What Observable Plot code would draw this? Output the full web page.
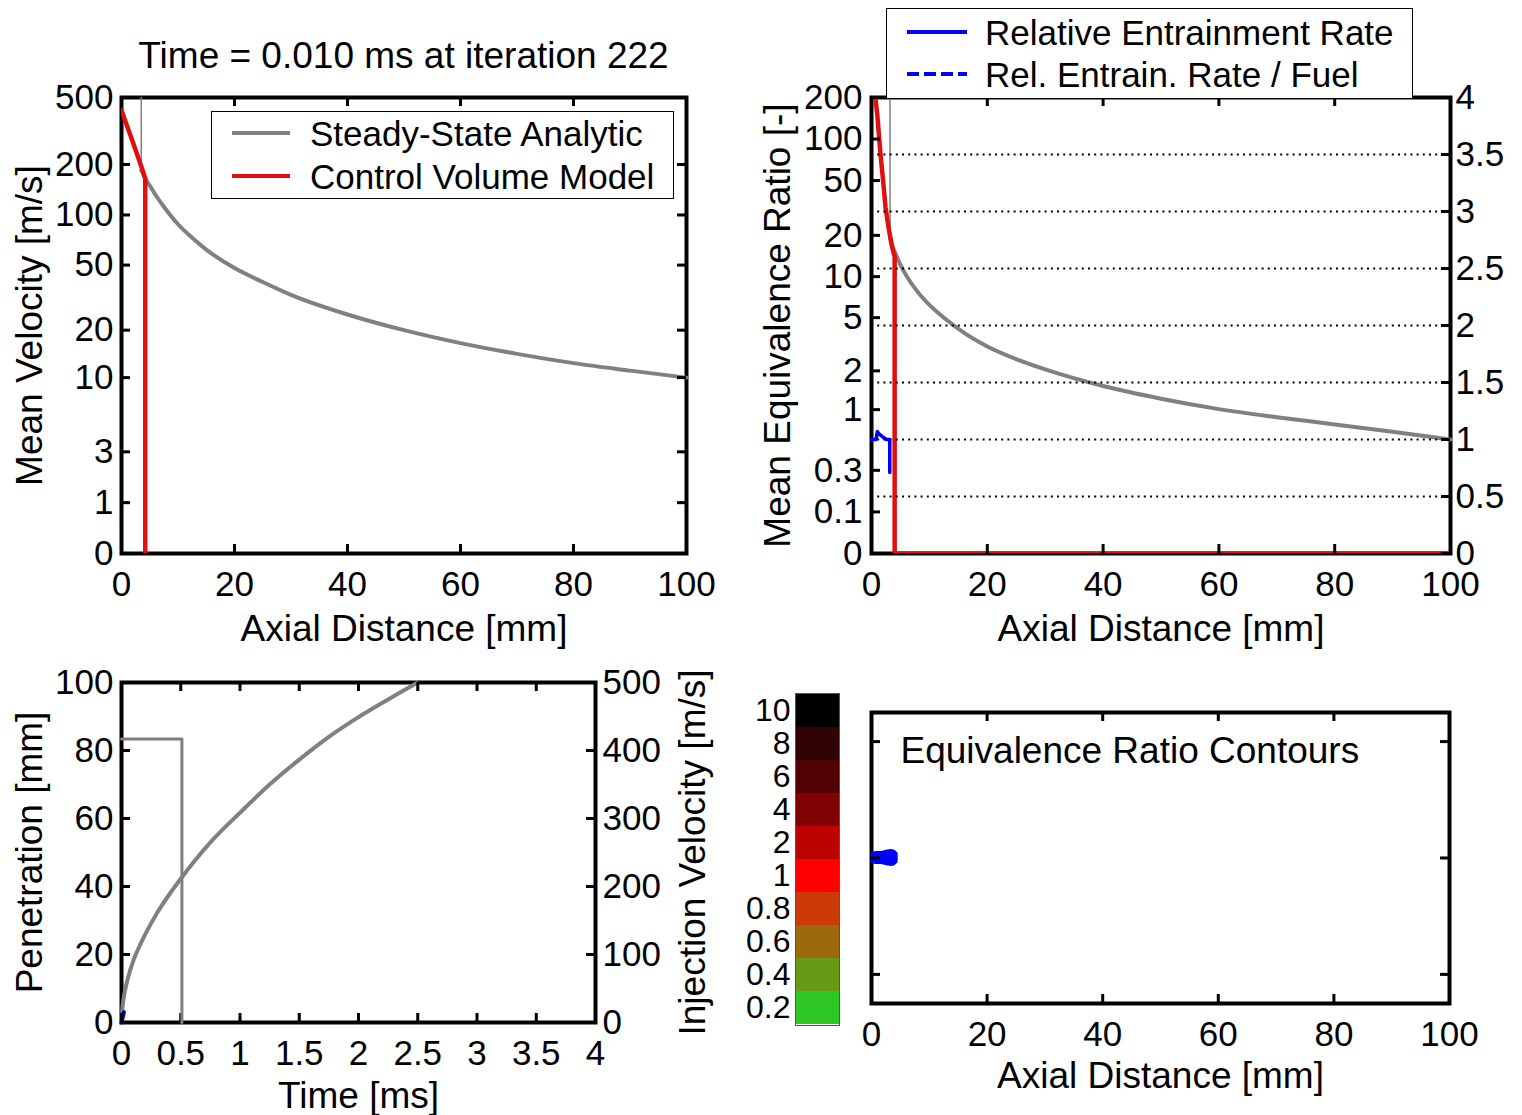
<!DOCTYPE html>
<html>
<head>
<meta charset="utf-8">
<script src="https://cdn.jsdelivr.net/npm/d3@7"></script>
<script src="https://cdn.jsdelivr.net/npm/@observablehq/plot@0.6"></script>
<style>
  html,body{margin:0;padding:0;background:#fff;}
  #root{position:relative;width:1522px;height:1115px;overflow:hidden;background:#fff;font-family:'Liberation Sans',Arial,Helvetica,sans-serif;color:#000;}
  .legend{position:absolute;background:#fff;border:1px solid #000;box-sizing:border-box;}
  .title{position:absolute;white-space:nowrap;text-align:center;}
</style>
</head>
<body>
<div id="root"></div>
<script>
// ================= DATA =================
const titleText = "Time = 0.010 ms at iteration 222";

// ---- Panel 1: mean velocity vs axial distance ----
const axialTicks = [0, 20, 40, 60, 80, 100];
const velTicks = [0, 1, 3, 10, 20, 50, 100, 200, 500];
const ssVelEdgeX = [3.5, 3.5];
const ssVelEdgeV = [500, 185];
const ssVelX = [3.5, 3.7, 4, 5, 6, 7.5, 10, 12.5, 15, 20, 25, 30, 40, 50, 60, 70, 80, 90, 100];
const ssVelV = [185, 180, 170, 150, 132, 112, 88, 73, 62, 48, 39.5, 33, 25, 20, 16.6, 14.2, 12.4, 11.1, 10];
const cvVelX = [0, 1, 2, 3, 3.9, 4.2, 4.2];
const cvVelV = [420, 338, 272, 218, 178, 165, 0];
const legend1Labels = ["Steady-State Analytic", "Control Volume Model"];

// ---- Panel 2: mean equivalence ratio / entrainment ----
const eqTicks = [0, 0.1, 0.3, 1, 2, 5, 10, 20, 50, 100, 200];
const rateTicks = [0, 0.5, 1, 1.5, 2, 2.5, 3, 3.5, 4];
const rateGrid = [0.5, 1, 1.5, 2, 2.5, 3, 3.5];
const ssEqEdgeX = [3.2, 3.2];
const ssEqEdgeV = [200, 19];
const ssEqX = [3.2, 3.6, 4.4, 5, 6, 7.9, 10, 13, 16, 20, 25, 30, 40, 50, 60, 70, 80, 90, 100];
const ssEqV = [19, 16.8, 13.9, 12.2, 10.2, 7.8, 6.2, 4.8, 3.85, 3.05, 2.45, 2.05, 1.53, 1.22, 1.01, 0.87, 0.76, 0.66, 0.57];
const cvEqX = [0, 0.69, 1.0, 1.55, 2.0, 2.42, 3.0, 3.57, 4.0, 4.0, 100];
const cvEqV = [400, 196, 150, 78, 50, 32, 22, 16.4, 14, 0, 0];
const entrX = [0, 0.8, 1.0, 1.3, 2.0, 2.6, 3.15, 3.15];
const entrV = [1.0, 1.0, 1.07, 1.05, 1.02, 1.0, 1.0, 0.71];
const legend2Labels = ["Relative Entrainment Rate", "Rel. Entrain. Rate / Fuel"];

// ---- Panel 3: penetration and injection velocity vs time ----
const timeTicks = [0, 0.5, 1, 1.5, 2, 2.5, 3, 3.5, 4];
const penTicks = [0, 20, 40, 60, 80, 100];
const injTicks = [0, 100, 200, 300, 400, 500];
const penT = [0, 0.01, 0.025, 0.05, 0.1, 0.15, 0.2, 0.3, 0.4, 0.5, 0.75, 1.0, 1.25, 1.5, 1.75, 2.0, 2.25, 2.49];
const penP = [0, 5, 8.5, 12.5, 18.2, 22.3, 25.9, 32.2, 37.5, 42.3, 53, 61.7, 70, 77.3, 84, 89.8, 95, 99.8];
const injT = [0, 0.51, 0.51];
const injV = [417, 417, 0];
const cvPenT = [0, 0.02];
const cvPenP = [0, 3];

// ---- Panel 4: equivalence ratio contours ----
const radTicks = [-20, 0, 20];
const blobX = [0.15, 0.6, 1.2, 2.0, 2.8, 3.4, 3.9, 4.4];
const blobLo = [-0.7, -0.85, -0.9, -0.95, -1.15, -1.25, -1.15, -0.7];
const blobHi = [0.7, 0.85, 0.9, 0.95, 1.15, 1.25, 1.15, 0.7];
const cbLabels = ["10", "8", "6", "4", "2", "1", "0.8", "0.6", "0.4", "0.2"];
const cbColors = ["#000000", "#300404", "#520202", "#800202", "#bd0202", "#ff0000", "#cc3a0a", "#9c6a0c", "#689a16", "#2ec824"];
const contourTitle = "Equivalence Ratio Contours";

// ================= HELPERS =================
const root = document.getElementById("root");
const FONT = "'Liberation Sans', Arial, Helvetica, sans-serif";
const TICK = 9;
const GRAY = "#808080", RED = "#e01010", BLUE = "#0000ff";
const zip = (xs, ys) => xs.map((x, i) => ({x, y: ys[i]}));

function mount(svg, left, top) {
  Object.assign(svg.style, {position: "absolute", left: left + "px", top: top + "px",
    background: "transparent", overflow: "visible", maxWidth: "none", fontFamily: FONT});
  root.appendChild(svg);
}
function yTicksIn(vals, innerW, side) {
  const o = {y: d => d, stroke: "black", strokeWidth: 3};
  if (side === "left") o.insetRight = innerW - TICK; else o.insetLeft = innerW - TICK;
  return Plot.tickY(vals, o);
}
function xTicksIn(vals, innerH, side) {
  const o = {x: d => d, stroke: "black", strokeWidth: 3};
  if (side === "bottom") o.insetTop = innerH - TICK; else o.insetBottom = innerH - TICK;
  return Plot.tickX(vals, o);
}
function yTitle(label, side, dx) {
  return Plot.text([label], {text: d => d, frameAnchor: side, dx, rotate: -90,
    textAnchor: "middle", lineAnchor: "middle", fontSize: 37});
}
function xTitle(label, dy) {
  return Plot.text([label], {text: d => d, frameAnchor: "bottom", dy,
    textAnchor: "middle", lineAnchor: "middle", fontSize: 37});
}
function legend(left, top, width, height, items) {
  const box = document.createElement("div");
  box.className = "legend";
  Object.assign(box.style, {left: left + "px", top: top + "px", width: width + "px", height: height + "px"});
  for (const it of items) {
    const s = document.createElement("div");
    Object.assign(s.style, {position: "absolute", left: it.sx + "px", top: (it.cy - it.w / 2) + "px",
      width: it.sw + "px", height: it.w + "px",
      background: it.dash ? `repeating-linear-gradient(to right, ${it.color} 0 12px, transparent 12px 17px)` : it.color});
    box.appendChild(s);
    const t = document.createElement("div");
    t.textContent = it.label;
    Object.assign(t.style, {position: "absolute", left: it.tx + "px", top: (it.cy - 17.1) + "px",
      fontSize: "35px", lineHeight: "35px", whiteSpace: "nowrap"});
    box.appendChild(t);
  }
  root.appendChild(box);
}

// ================= TITLE =================
const title = document.createElement("div");
title.className = "title";
title.textContent = titleText;
Object.assign(title.style, {left: "121px", width: "565px", top: "37px", fontSize: "37px", lineHeight: "37px"});
root.appendChild(title);

// ================= PANEL 1 =================
{
  const W = 740, H = 580, L = 121, R = 54, T = 17, B = 107;
  const iw = W - L - R, ih = H - T - B;
  const svg = Plot.plot({
    width: W, height: H, marginLeft: L, marginRight: R, marginTop: T, marginBottom: B,
    x: {domain: [0, 100], axis: null},
    y: {type: "symlog", constant: 1, domain: [0, 500], axis: null},
    marks: [
      Plot.frame({stroke: "black", strokeWidth: 4}),
      Plot.line(zip(ssVelEdgeX, ssVelEdgeV), {x: "x", y: "y", stroke: GRAY, strokeWidth: 1.5}),
      Plot.line(zip(ssVelX, ssVelV), {x: "x", y: "y", stroke: GRAY, strokeWidth: 4, curve: "monotone-x"}),
      Plot.line(zip(cvVelX, cvVelV), {x: "x", y: "y", stroke: RED, strokeWidth: 4.5, clip: true}),
      yTicksIn(velTicks, iw, "left"), yTicksIn(velTicks, iw, "right"),
      xTicksIn(axialTicks, ih, "bottom"), xTicksIn(axialTicks, ih, "top"),
      Plot.axisY(velTicks, {anchor: "left", tickSize: 0, tickPadding: 8, fontSize: 35, tickFormat: d => String(d), label: null}),
      Plot.axisX(axialTicks, {anchor: "bottom", tickSize: 0, tickPadding: 18, fontSize: 35, label: null}),
      yTitle("Mean Velocity [m/s]", "left", -91),
      xTitle("Axial Distance [mm]", 76)
    ]
  });
  mount(svg, 0, 80);
  legend(211, 111, 463, 88, [
    {label: legend1Labels[0], color: GRAY, sx: 20, sw: 58, w: 4, cy: 21, tx: 98},
    {label: legend1Labels[1], color: RED, sx: 20, sw: 58, w: 4, cy: 64, tx: 98}
  ]);
}

// ================= PANEL 2 =================
{
  const W = 782, H = 580, L = 131, R = 72, T = 17, B = 107;
  const iw = W - L - R, ih = H - T - B;
  const base = Plot.plot({
    width: W, height: H, marginLeft: L, marginRight: R, marginTop: T, marginBottom: B,
    x: {domain: [0, 100], axis: null},
    y: {type: "symlog", constant: 0.1, domain: [0, 200], axis: null},
    marks: [
      Plot.frame({stroke: "black", strokeWidth: 4}),
      Plot.line(zip(ssEqEdgeX, ssEqEdgeV), {x: "x", y: "y", stroke: GRAY, strokeWidth: 1.5}),
      Plot.line(zip(ssEqX, ssEqV), {x: "x", y: "y", stroke: GRAY, strokeWidth: 4, curve: "monotone-x"}),
      Plot.line(zip(cvEqX, cvEqV), {x: "x", y: "y", stroke: RED, strokeWidth: 4.5, clip: true}),
      yTicksIn(eqTicks, iw, "left"),
      xTicksIn(axialTicks, ih, "bottom"), xTicksIn(axialTicks, ih, "top"),
      Plot.axisY(eqTicks, {anchor: "left", tickSize: 0, tickPadding: 9, fontSize: 35, tickFormat: d => String(d), label: null}),
      Plot.axisX(axialTicks, {anchor: "bottom", tickSize: 0, tickPadding: 18, fontSize: 35, label: null}),
      yTitle("Mean Equivalence Ratio [-]", "left", -93),
      xTitle("Axial Distance [mm]", 76)
    ]
  });
  mount(base, 740, 80);
  const over = Plot.plot({
    width: W, height: H, marginLeft: L, marginRight: R, marginTop: T, marginBottom: B,
    x: {domain: [0, 100], axis: null},
    y: {domain: [0, 4], axis: null},
    marks: [
      Plot.ruleY(rateGrid, {y: d => d, stroke: "black", strokeWidth: 2, strokeDasharray: "2,4.2"}),
      Plot.line(zip(entrX, entrV), {x: "x", y: "y", stroke: BLUE, strokeWidth: 3.5}),
      yTicksIn(rateTicks, iw, "right"),
      Plot.axisY(rateTicks, {anchor: "right", tickSize: 0, tickPadding: 5, fontSize: 35, tickFormat: d => String(d), label: null})
    ]
  });
  mount(over, 740, 80);
  legend(886, 8, 527, 91, [
    {label: legend2Labels[0], color: BLUE, sx: 20, sw: 60, w: 4, cy: 23, tx: 98},
    {label: legend2Labels[1], color: BLUE, sx: 20, sw: 60, w: 4, cy: 65, tx: 98, dash: true}
  ]);
}

// ================= PANEL 3 =================
{
  const W = 740, H = 455, L = 121, R = 145, T = 22, B = 93;
  const iw = W - L - R, ih = H - T - B;
  const base = Plot.plot({
    width: W, height: H, marginLeft: L, marginRight: R, marginTop: T, marginBottom: B,
    x: {domain: [0, 4], axis: null},
    y: {domain: [0, 100], axis: null},
    marks: [
      Plot.frame({stroke: "black", strokeWidth: 4}),
      Plot.line(zip(penT, penP), {x: "x", y: "y", stroke: GRAY, strokeWidth: 4, curve: "monotone-x"}),
      Plot.line(zip(cvPenT, cvPenP), {x: "x", y: "y", stroke: "#0000aa", strokeWidth: 4}),
      yTicksIn(penTicks, iw, "left"),
      xTicksIn(timeTicks, ih, "bottom"), xTicksIn(timeTicks, ih, "top"),
      Plot.axisY(penTicks, {anchor: "left", tickSize: 0, tickPadding: 8, fontSize: 35, label: null}),
      Plot.axisX(timeTicks, {anchor: "bottom", tickSize: 0, tickPadding: 18, fontSize: 35, tickFormat: d => String(d), label: null}),
      yTitle("Penetration [mm]", "left", -91),
      xTitle("Time [ms]", 74)
    ]
  });
  mount(base, 0, 660);
  const over = Plot.plot({
    width: W, height: H, marginLeft: L, marginRight: R, marginTop: T, marginBottom: B,
    x: {domain: [0, 4], axis: null},
    y: {domain: [0, 500], axis: null},
    marks: [
      Plot.line(zip(injT, injV), {x: "x", y: "y", stroke: GRAY, strokeWidth: 3}),
      yTicksIn(injTicks, iw, "right"),
      Plot.axisY(injTicks, {anchor: "right", tickSize: 0, tickPadding: 7, fontSize: 35, label: null}),
      yTitle("Injection Velocity [m/s]", "right", 98)
    ]
  });
  mount(over, 0, 660);
}

// ================= PANEL 4 =================
{
  const W = 782, H = 455, L = 131, R = 73, T = 52, B = 112;
  const iw = W - L - R, ih = H - T - B;
  const blob = blobX.map((x, i) => ({x, lo: blobLo[i], hi: blobHi[i]}));
  const svg = Plot.plot({
    width: W, height: H, marginLeft: L, marginRight: R, marginTop: T, marginBottom: B,
    x: {domain: [0, 100], axis: null},
    y: {domain: [-25, 25], axis: null},
    marks: [
      Plot.frame({stroke: "black", strokeWidth: 4}),
      Plot.areaY(blob, {x: "x", y1: "lo", y2: "hi", fill: BLUE, stroke: BLUE, strokeWidth: 2.5, curve: "catmull-rom"}),
      yTicksIn(radTicks, iw, "left"), yTicksIn(radTicks, iw, "right"),
      xTicksIn(axialTicks, ih, "bottom"), xTicksIn(axialTicks, ih, "top"),
      Plot.axisX(axialTicks, {anchor: "bottom", tickSize: 0, tickPadding: 18, fontSize: 35, label: null}),
      Plot.text([contourTitle], {text: d => d, frameAnchor: "top-left", dx: 29, dy: 24,
        textAnchor: "start", lineAnchor: "top", fontSize: 37}),
      xTitle("Axial Distance [mm]", 73)
    ]
  });
  mount(svg, 740, 660);

  const cb = Plot.plot({
    width: 130, height: 360, marginLeft: 75, marginRight: 11, marginTop: 13, marginBottom: 15,
    y: {type: "band", domain: cbLabels, padding: 0, axis: null},
    color: {type: "ordinal", domain: cbLabels, range: cbColors},
    marks: [
      Plot.cell(cbLabels, {y: d => d, fill: d => d}),
      Plot.frame({stroke: "#555", strokeWidth: 1}),
      Plot.axisY(cbLabels, {anchor: "left", tickSize: 0, tickPadding: 5, fontSize: 32, label: null})
    ]
  });
  mount(cb, 720, 680);
}
</script>
</body>
</html>
